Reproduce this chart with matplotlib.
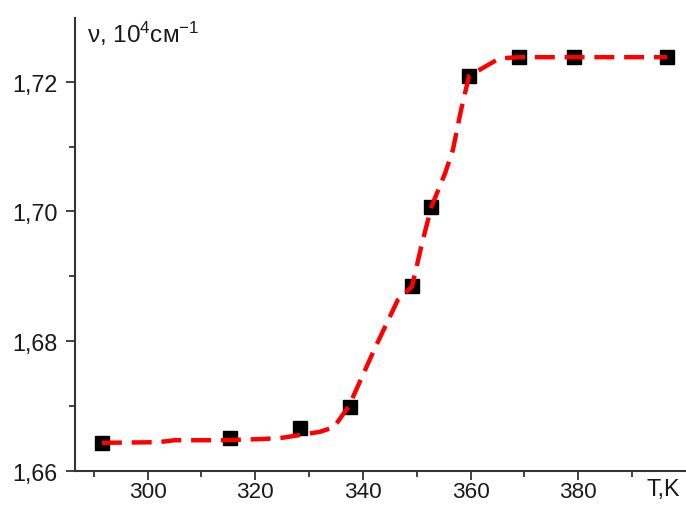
import matplotlib
matplotlib.use("Agg")
import matplotlib.pyplot as plt
from matplotlib.ticker import FixedLocator, FuncFormatter


# -----------------------------
# Data
# -----------------------------
T_exp = [291.5, 315.3, 328.3, 337.6, 349.1, 352.7, 359.7, 369.0, 379.2, 396.5]
nu_exp = [1.6643, 1.6650, 1.6666, 1.6699, 1.6885, 1.7007, 1.7209, 1.7238, 1.7238, 1.7238]

T_fit = [291.5, 302.0, 305.0, 314.2, 321.8, 325.2, 332.0, 334.6, 337.4, 342.1,
         346.5, 349.1, 351.0, 352.7, 355.3, 356.7, 358.2, 359.7, 365.3, 369.0, 396.5]
nu_fit = [1.6643, 1.6644, 1.6647, 1.6647, 1.6649, 1.6651, 1.6660, 1.6667, 1.6700, 1.6787,
          1.6864, 1.6884, 1.6952, 1.7007, 1.7060, 1.7095, 1.7156, 1.7209, 1.7236, 1.7238, 1.7238]

x_major = [300, 320, 340, 360, 380]
x_minor = [290, 310, 330, 350, 370, 390]
y_major = [1.66, 1.68, 1.70, 1.72]
y_minor = [1.67, 1.69, 1.71]


# -----------------------------
# Style
# -----------------------------
plt.rcParams["font.family"] = ["Liberation Sans", "DejaVu Sans"]
plt.rcParams["mathtext.fontset"] = "custom"
plt.rcParams["mathtext.rm"] = "Liberation Sans"
plt.rcParams["mathtext.it"] = "Liberation Sans"
plt.rcParams["mathtext.bf"] = "Liberation Sans"

axis_col = "#333333"
text_col = "#1a1a1a"
fs = 16.8


# -----------------------------
# Plot
# -----------------------------
fig = plt.figure(figsize=(6.86, 5.06), dpi=100)
ax = fig.add_axes([0.1093, 0.0678, 0.8907, 0.8941])

ax.plot(T_exp, nu_exp, linestyle="none", marker="s", markersize=10,
        color="black", zorder=2, clip_on=False)

ax.plot(T_fit, nu_fit, color="#ff0000", linewidth=3.2,
        dashes=(4.5, 2.2), dash_capstyle="butt", zorder=3, clip_on=False)

ax.set_xlim(286.5, 400)
ax.set_ylim(1.66, 1.7298)

ax.spines["top"].set_visible(False)
ax.spines["right"].set_visible(False)
for side in ("left", "bottom"):
    ax.spines[side].set_linewidth(1.5)
    ax.spines[side].set_color(axis_col)

ax.xaxis.set_major_locator(FixedLocator(x_major))
ax.xaxis.set_minor_locator(FixedLocator(x_minor))
ax.yaxis.set_major_locator(FixedLocator(y_major))
ax.yaxis.set_minor_locator(FixedLocator(y_minor))
ax.yaxis.set_major_formatter(FuncFormatter(lambda v, p: f"{v:.2f}".replace(".", ",")))

ax.tick_params(which="major", length=6.5, width=1.3, color=axis_col,
               labelsize=fs, labelcolor=text_col)
ax.tick_params(which="minor", length=4, width=1.3, color=axis_col)
ax.tick_params(axis="x", which="major", pad=1, labelsize=16.2)
ax.tick_params(axis="y", which="major", pad=6)

fig.text(87 / 686, 1 - 43 / 506, r"ν, 10$^{4}$см$^{-1}$", fontsize=17.5,
         color=text_col, ha="left", va="baseline")
fig.text(663 / 686, 1 - 490 / 506, "T,K", fontsize=fs,
         color=text_col, ha="center", va="center")

plt.savefig("out.png", dpi=100)
